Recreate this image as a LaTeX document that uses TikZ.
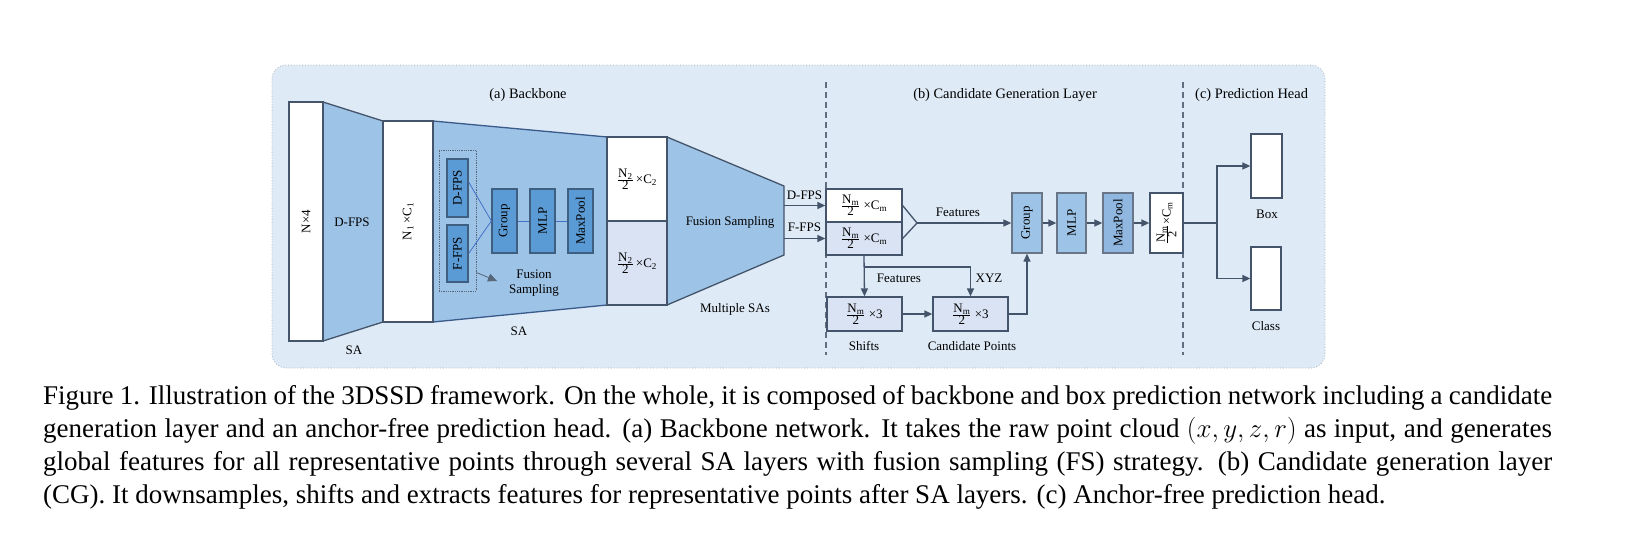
\RequirePackage{fix-cm}
\documentclass[tikz,border=0pt]{standalone}
\usepackage{fontspec}
\setmainfont{Liberation Serif}
\usetikzlibrary{arrows.meta,calc}
\definecolor{panelC}{HTML}{DEEAF6}
\definecolor{panelB}{HTML}{A6ADB5}
\definecolor{lineC}{HTML}{44546A}
\definecolor{trapC}{HTML}{9DC3E6}
\definecolor{trapB}{HTML}{3A5A8C}
\definecolor{darkC}{HTML}{5B9BD5}
\definecolor{darkB}{HTML}{3F5F80}
\definecolor{paleC}{HTML}{DAE3F3}
\definecolor{cgC}{HTML}{9DC3E6}
\definecolor{cgM}{HTML}{8FB7E0}
\definecolor{blineC}{HTML}{4472C4}
\newcommand{\fr}[2]{$\frac{\mbox{#1}}{\mbox{#2}}$}
\begin{document}
\begin{tikzpicture}[x=1pt,y=-1pt,
  font=\fontsize{13}{15}\selectfont,
  panelbox/.style={draw=panelB, dotted, line width=0.8pt, fill=panelC, rounded corners=14pt, inner sep=0pt},
  whitebox/.style={draw=lineC, line width=1.3pt, fill=white, inner sep=0pt},
  palebox/.style={draw=lineC, line width=1.3pt, fill=paleC, inner sep=0pt},
  darkbox/.style={draw=darkB, line width=1.3pt, fill=darkC, inner sep=0pt},
  cgbox/.style={draw=lineC!80, line width=1.3pt, fill=cgC, inner sep=0pt},
  cgmbox/.style={draw=lineC!80, line width=1.3pt, fill=cgM, inner sep=0pt},
  dotbox/.style={draw=lineC!90, densely dotted, line width=0.8pt, inner sep=0pt},
  trap/.style={draw=lineC, line width=1.3pt, fill=trapC},
  trapblue/.style={draw=trapB, line width=1.3pt, fill=trapC},
  ln/.style={draw=lineC, line width=1.3pt},
  arr/.style={draw=lineC, line width=1.3pt, -{Triangle[length=8pt,width=7pt]}},
  bln/.style={draw=blineC, line width=0.8pt},
  garr/.style={draw=lineC!90, line width=0.8pt, -{Triangle[length=9pt,width=8pt]}},
  dsh/.style={draw=lineC!85, line width=1.2pt, dash pattern=on 6pt off 4pt},
  title/.style={font=\fontsize{14.4}{16}\selectfont, inner sep=0pt},
  lbl/.style={inner sep=0pt},
  caption/.style={font=\fontsize{27}{33}\selectfont, inner sep=0pt, anchor=base west}
]
\useasboundingbox (0,0) rectangle (1633,542);

% panel
\node[panelbox, minimum width=1053pt, minimum height=303pt] (panel) at (798.5,216.5) {};

% titles
\node[title] (ta) at (528,95) {(a) Backbone};
\node[title] (tb) at (1005,95) {(b) Candidate Generation Layer};
\node[title, anchor=west] (tc) at (1195,95) {(c) Prediction Head};

% dashed separators
\coordinate (d1t) at (826,82); \coordinate (d1b) at (826,355);
\coordinate (d2t) at (1183,82); \coordinate (d2b) at (1183,355);
\draw[dsh] (d1t) -- (d1b);
\draw[dsh] (d2t) -- (d2b);

% trapezoids
\draw[trap] (323,102) -- (383,121) -- (383,322) -- (323,341) -- cycle;
\draw[trapblue] (433,121) -- (607,137) -- (607,305) -- (433,322) -- cycle;
\draw[trap] (667,137) -- (784,186) -- (784,255) -- (667,305) -- cycle;

% backbone boxes
\node[whitebox, minimum width=34pt, minimum height=239pt] (n4) at (306,221.5) {};
\node[rotate=90, lbl] (n4t) at (306,221.5) {N×4};
\node[lbl] (dfpsT) at (352,222) {D-FPS};
\node[whitebox, minimum width=50pt, minimum height=201pt] (n1) at (408,221.5) {};
\node[rotate=90, lbl] (n1t) at (408,221.5) {N\textsubscript{1}\,×C\textsubscript{1}};

\node[dotbox, minimum width=37pt, minimum height=141pt] (fsbox) at (457.5,220.5) {};
\node[darkbox, minimum width=21pt, minimum height=58pt] (dfps) at (457.5,188) {};
\node[rotate=90, lbl] at (dfps) {D-FPS};
\node[darkbox, minimum width=21pt, minimum height=57pt] (ffps) at (457.5,253.5) {};
\node[rotate=90, lbl] at (ffps) {F-FPS};
\node[darkbox, minimum width=25pt, minimum height=64pt] (bgroup) at (504.5,221) {};
\node[rotate=90, lbl] at (bgroup) {Group};
\node[darkbox, minimum width=25pt, minimum height=64pt] (bmlp) at (542.5,221) {};
\node[rotate=90, lbl] at (bmlp) {MLP};
\node[darkbox, minimum width=25pt, minimum height=64pt] (bmax) at (580.5,221) {};
\node[rotate=90, lbl] at (bmax) {MaxPool};
\draw[bln] ($(dfps.east)+(0,-6)$) -- (bgroup.west);
\draw[bln] (ffps.east) -- (bgroup.west);
\draw[bln] (bgroup.east) -- (bmlp.west);
\draw[bln] (bmlp.east) -- (bmax.west);
\coordinate (fsarr) at (497,281);
\draw[garr] ($(fsbox.east)+(0,52)$) -- (fsarr);
\node[lbl, align=center] (fslbl) at (534,283) {Fusion\\Sampling};

\node[lbl] (sa1) at (354,350) {SA};
\node[lbl] (sa2) at (519,331) {SA};

\node[whitebox, minimum width=60pt, minimum height=84pt] (n2a) at (637,179) {};
\node[lbl] at (n2a) {\fr{N\textsubscript{2}}{2}\,×C\textsubscript{2}};
\node[palebox, minimum width=60pt, minimum height=84pt] (n2b) at (637,263) {};
\node[lbl] at (n2b) {\fr{N\textsubscript{2}}{2}\,×C\textsubscript{2}};

\node[lbl] (fsT) at (730,222) {Fusion Sampling};
\node[lbl] (msa) at (735,309) {Multiple SAs};

% candidate generation
\node[whitebox, minimum width=76pt, minimum height=33pt] (nma) at (864,205.5) {};
\node[lbl] at (nma) {\fr{N\textsubscript{m}}{2} ×C\textsubscript{m}};
\node[palebox, minimum width=76pt, minimum height=33pt] (nmb) at (864,238.5) {};
\node[lbl] at (nmb) {\fr{N\textsubscript{m}}{2} ×C\textsubscript{m}};
\node[palebox, minimum width=75pt, minimum height=34pt] (shifts) at (864.5,314) {};
\node[lbl] at (shifts) {\fr{N\textsubscript{m}}{2} ×3};
\node[palebox, minimum width=75pt, minimum height=34pt] (cand) at (970.5,314) {};
\node[lbl] at (cand) {\fr{N\textsubscript{m}}{2} ×3};
\node[lbl] (shT) at (864,346) {Shifts};
\node[lbl] (cpT) at (972,346) {Candidate Points};

\coordinate (fsR1) at (784,205.5);
\coordinate (fsR2) at (784,238.5);
\draw[arr] (fsR1) -- (nma.west);
\draw[arr] (fsR2) -- (nmb.west);
\node[lbl] (dl) at (804.5,195) {D-FPS};
\node[lbl] (fl) at (804.5,227) {F-FPS};

\node[cgbox, minimum width=30pt, minimum height=60pt] (cgGroup) at (1027,223) {};
\node[rotate=90, lbl] at (cgGroup) {Group};
\node[cgbox, minimum width=29pt, minimum height=60pt] (cgMLP) at (1071.5,223) {};
\node[rotate=90, lbl] at (cgMLP) {MLP};
\node[cgmbox, minimum width=30pt, minimum height=60pt] (cgMax) at (1118,223) {};
\node[rotate=90, lbl] at (cgMax) {MaxPool};
\node[whitebox, minimum width=33pt, minimum height=60pt] (out) at (1166.5,223) {};
\node[rotate=90, lbl, font=\fontsize{12.5}{14}\selectfont] at (out) {\fr{N\textsubscript{m}}{2}×C\textsubscript{m}};

\coordinate (mg) at (917,223);
\draw[ln] (nma.east) -- (mg) -- (nmb.east);
\draw[arr] (mg) -- (cgGroup.west);
\node[lbl] (featT) at (958,212) {Features};
\draw[arr] (nmb.south) -- (shifts.north);
\coordinate (jn) at (864,267);
\draw[arr] (jn) -| (cand.north);
\node[lbl] (feat2) at (899,278) {Features};
\node[lbl] (xyz) at (989,278) {XYZ};
\draw[arr] (shifts.east) -- (cand.west);
\draw[arr] (cand.east) -| (cgGroup.south);
\draw[arr] (cgGroup.east) -- (cgMLP.west);
\draw[arr] (cgMLP.east) -- (cgMax.west);
\draw[arr] (cgMax.east) -- (out.west);

% prediction head
\node[whitebox, minimum width=31pt, minimum height=64pt] (box) at (1266.5,166) {};
\node[whitebox, minimum width=30pt, minimum height=63pt] (cls) at (1266,278.5) {};
\node[lbl] (boxT) at (1267,214) {Box};
\node[lbl] (clsT) at (1266,326) {Class};
\coordinate (br) at (1217,223);
\draw[ln] (out.east) -- (br);
\draw[arr] (br) |- (box.west);
\draw[arr] (br) |- (cls.west);

% caption
\node[caption] (c1) at (43,404) {\makebox[1509pt][s]{Figure 1. Illustration of the 3DSSD framework. On the whole, it is composed of backbone and box prediction network including a candidate}};
\node[caption] (c2) at (43,437) {\makebox[1509pt][s]{generation layer and an anchor-free prediction head. (a) Backbone network. It takes the raw point cloud $(x, y, z, r)$ as input, and generates}};
\node[caption] (c3) at (43,470) {\makebox[1509pt][s]{global features for all representative points through several SA layers with fusion sampling (FS) strategy. (b) Candidate generation layer}};
\node[caption] (c4) at (43,503) {(CG). It downsamples, shifts and extracts features for representative points after SA layers. (c) Anchor-free prediction head.};
\end{tikzpicture}
\end{document}
